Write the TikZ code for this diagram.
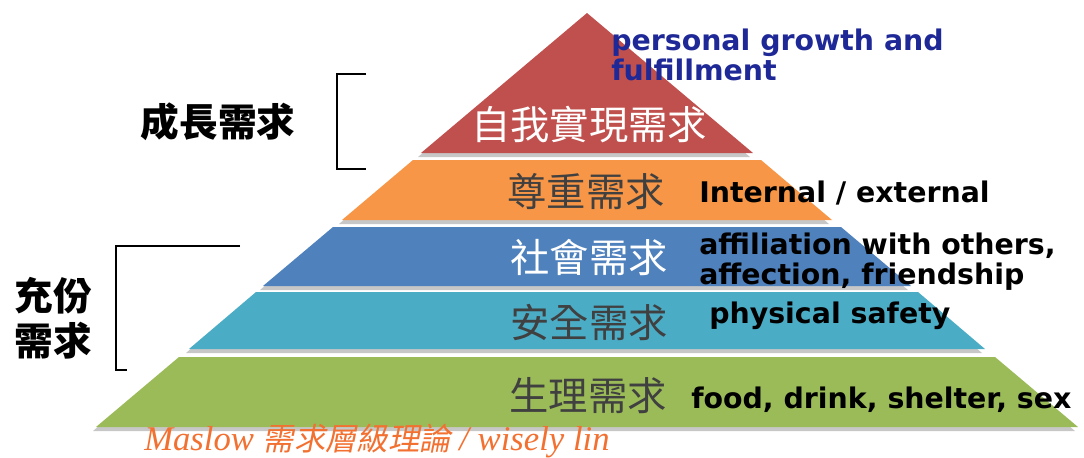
\documentclass[tikz,border=0pt]{standalone}
\usepackage{fontspec}
\setmainfont{DejaVu Sans}
\newfontfamily\cjk{Noto Sans CJK TC}
\newfontfamily\captfont{Liberation Serif}
\newfontfamily\captcjk[FakeSlant=0.2]{Noto Sans CJK TC}

\definecolor{tierred}{RGB}{192,80,77}
\definecolor{tierorange}{RGB}{247,150,70}
\definecolor{tierblue}{RGB}{79,129,189}
\definecolor{tierteal}{RGB}{75,172,198}
\definecolor{tiergreen}{RGB}{155,187,89}
\definecolor{labelgrey}{RGB}{64,64,64}
\definecolor{notenavy}{RGB}{30,40,150}
\definecolor{captorange}{RGB}{242,112,48}

\tikzset{
  tiershadow/.style={fill=black!40, fill opacity=0.55, shift={(-3,4)}},
  tiertext/.style={inner sep=0.75pt, font=\cjk\fontsize{29.5}{32}\selectfont},
  note/.style={inner sep=0.75pt, align=left, font=\bfseries\fontsize{21.3}{22.5}\selectfont},
  sidetext/.style={inner sep=0.75pt, align=center, font=\cjk\bfseries\fontsize{29}{34}\selectfont},
  bracket/.style={line width=1.2pt}
}

\begin{document}
\begin{tikzpicture}[x=0.75pt,y=0.75pt,yscale=-1,xscale=1]
\useasboundingbox (0,0) rectangle (1084,457); %set diagram to 1084 x 457

%Shadows under the tiers
\fill [tiershadow] (587,13) -- (421,153) -- (753,153) -- cycle ;
\fill [tiershadow] (413,160) -- (761,160) -- (832,220) -- (342,220) -- cycle ;
\fill [tiershadow] (333,227) -- (841,227) -- (911,286) -- (263,286) -- cycle ;
\fill [tiershadow] (256,292) -- (918,292) -- (985,349) -- (189,349) -- cycle ;
\fill [tiershadow] (179,357) -- (995,357) -- (1078,427) -- (96,427) -- cycle ;

%Shape: Triangle (top tier)
\fill [tierred] (587,13) -- (421,153) -- (753,153) -- cycle ;
%Shape: Trapezoid
\fill [tierorange] (413,160) -- (761,160) -- (832,220) -- (342,220) -- cycle ;
%Shape: Trapezoid
\fill [tierblue] (333,227) -- (841,227) -- (911,286) -- (263,286) -- cycle ;
%Shape: Trapezoid
\fill [tierteal] (256,292) -- (918,292) -- (985,349) -- (189,349) -- cycle ;
%Shape: Trapezoid
\fill [tiergreen] (179,357) -- (995,357) -- (1078,427) -- (96,427) -- cycle ;

%Brackets
\draw [bracket] (366,74) -- (337,74) -- (337,169) -- (366,169) ;
\draw [bracket] (240,246) -- (116,246) -- (116,370) -- (127,370) ;

% Text Node
\draw (589,125) node [tiertext, white] (selfact) {自我實現需求};
% Text Node
\draw (586,192) node [tiertext, labelgrey] (esteem) {尊重需求};
% Text Node
\draw (589,258) node [tiertext, white] (social) {社會需求};
% Text Node
\draw (589,322) node [tiertext, labelgrey] (safety) {安全需求};
% Text Node
\draw (588,396) node [tiertext, labelgrey] (body) {生理需求};

% Text Node
\draw (610,55) node [note, anchor=west, notenavy] (growthnote) {personal growth and\\fulfillment};
% Text Node
\draw (698,202) node [note, anchor=base west] (esteemnote) {Internal / external};
% Text Node
\draw (698,262) node [note, anchor=west] (socialnote) {affiliation with others,\\affection, friendship};
% Text Node
\draw (708,323) node [note, anchor=base west] (safetynote) {physical safety};
% Text Node
\draw (690,408) node [note, anchor=base west] (bodynote) {food, drink, shelter, sex};

% Text Node
\draw (218,122) node [sidetext] (growthneed) {成長需求};
% Text Node
\draw (53,318) node [sidetext] (basicneed) {充份\\需求};

% Text Node
\draw (143,441) node [anchor=west, inner sep=0.75pt, captorange] (caption) {\captfont\itshape\fontsize{26}{28}\selectfont Maslow {\captcjk\fontsize{23.5}{26}\selectfont 需求層級理論} / wisely lin};

\end{tikzpicture}
\end{document}
